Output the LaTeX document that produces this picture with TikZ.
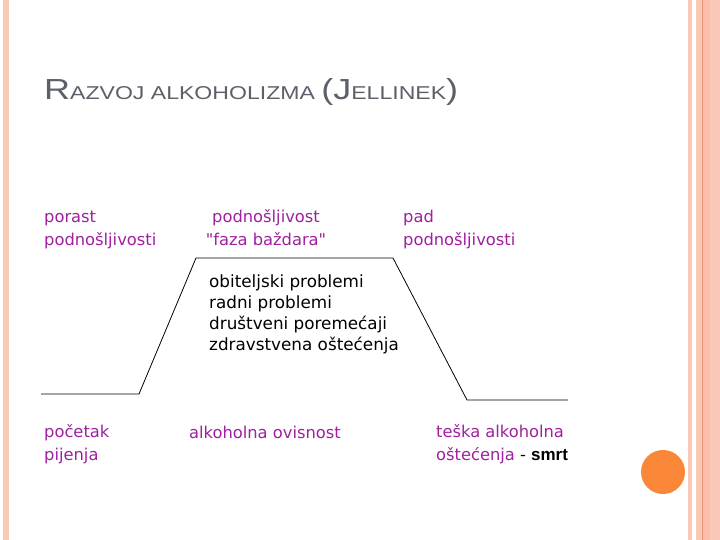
\documentclass[tikz,border=0pt]{standalone}
\usepackage{fontspec}
\usepackage{graphicx}
\newfontfamily\arialf{Liberation Sans}
\newfontfamily\comicf{DejaVu Sans}
\definecolor{salmon}{RGB}{250,200,182}
\definecolor{salmondark}{RGB}{232,150,112}
\definecolor{salmonmid}{RGB}{252,190,168}
\definecolor{dotorange}{RGB}{250,135,55}
\definecolor{titlegray}{RGB}{92,96,104}
\definecolor{labpurple}{RGB}{160,32,160}
\tikzset{
  lab/.style={anchor=base west, inner sep=0pt, text=labpurple, font=\comicf\fontsize{16.3}{22.5}\selectfont, align=left},
  labc/.style={lab, align=center, anchor=base},
  blk/.style={anchor=base west, inner sep=0pt, text=black, font=\comicf\fontsize{16.8}{21}\selectfont, align=left},
  curve/.style={draw=black, line width=0.8pt}
}
\newcommand{\bigT}{\fontsize{29}{29}\selectfont}
\newcommand{\smallT}{\fontsize{18.6}{18.6}\selectfont}
\begin{document}
\begin{tikzpicture}[x=1pt,y=-1pt]
\useasboundingbox (0,0) rectangle (720,540);
\fill[white] (0,0) rectangle (720,540);
% borders
\fill[salmon] (3,0) rectangle (9,540);
\fill[salmon] (688,0) rectangle (692,540);
\fill[salmon] (696,0) rectangle (720,540);
\fill[salmonmid] (703,0) rectangle (710,540);
\fill[salmondark] (702,0) rectangle (703.2,540);
% orange dot
\fill[dotorange] (663,472) circle (22);
% title
\node[anchor=base west, inner sep=0pt, text=titlegray] (title) at (44,100)
  {\scalebox{1.24}[1]{\arialf\bigT R\smallT AZVOJ ALKOHOLIZMA \bigT(J\smallT ELLINEK\bigT)}};
% curve
\coordinate (p1) at (41,394);
\coordinate (p2) at (139,394);
\coordinate (p3) at (196,258);
\coordinate (p4) at (393,258);
\coordinate (p5) at (467,400);
\coordinate (p6) at (568,400);
\draw[curve] (p1) -- (p2) -- (p3) -- (p4) -- (p5) -- (p6);
% upper labels (anchor = baseline of last line)
\node[lab] (porast) at (44,245) {porast\\podnošljivosti};
\node[labc] (faza) at (266,245) {podnošljivost\\"faza baždara"};
\node[lab] (pad) at (403,245) {pad\\podnošljivosti};
% problems
\node[blk] (prob) at (209,350.5) {obiteljski problemi\\radni problemi\\društveni poremećaji\\zdravstvena oštećenja};
% lower labels
\node[lab] (pocetak) at (44,460) {početak\\pijenja};
\node[lab] (ovisnost) at (189,438) {alkoholna ovisnost};
\node[lab] (teska) at (436,460) {teška alkoholna\\oštećenja {\color{black}- {\arialf\bfseries\fontsize{17}{22.5}\selectfont smrt}}};
\end{tikzpicture}
\end{document}
